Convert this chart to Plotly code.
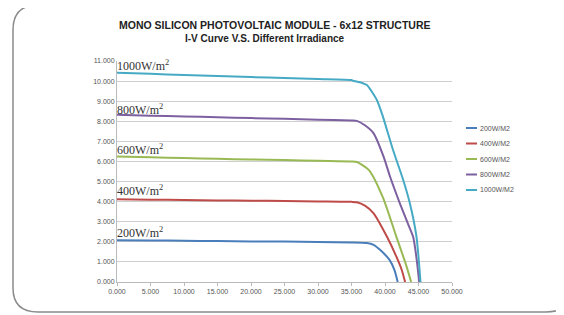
import plotly.graph_objects as go

# ---- data ----
series_names = ["200W/M2", "400W/M2", "600W/M2", "800W/M2", "1000W/M2"]
label_texts = ["200W/m<sup>2</sup>", "400W/m<sup>2</sup>", "600W/m<sup>2</sup>",
               "800W/m<sup>2</sup>", "1000W/m<sup>2</sup>"]
label_y = [2.45, 4.55, 6.6, 8.6, 10.8]

v_200 = [0, 5, 10, 15, 20, 25, 30, 35, 37.3, 38.3, 39.3, 40.7, 41.4, 41.9]
i_200 = [2.08, 2.07, 2.05, 2.04, 2.02, 2.01, 1.99, 1.97, 1.94, 1.85, 1.59, 1.09, 0.6, 0.0]

v_400 = [0, 5, 10, 15, 20, 25, 30, 35, 35.8, 37.0, 38.3, 40.3, 41.7, 42.5, 43.0]
i_400 = [4.12, 4.10, 4.08, 4.06, 4.05, 4.03, 4.01, 3.99, 3.97, 3.80, 3.42, 2.25, 1.26, 0.6, 0.0]

v_600 = [0, 5, 10, 15, 20, 25, 30, 35, 35.8, 37.6, 39.7, 41.7, 43.0, 43.6, 43.9]
i_600 = [6.25, 6.21, 6.17, 6.13, 6.10, 6.07, 6.03, 6.00, 5.97, 5.57, 4.20, 2.25, 1.0, 0.35, 0.0]

v_800 = [0, 5, 10, 15, 20, 25, 30, 35, 35.8, 37.0, 38.3, 39.8, 40.8, 42.2, 43.3, 44.2, 44.7, 45.1]
i_800 = [8.32, 8.28, 8.24, 8.20, 8.16, 8.12, 8.08, 8.04, 8.02, 7.80, 7.40, 6.23, 5.20, 3.93, 3.0, 2.25, 1.2, 0.0]

v_1000 = [0, 5, 10, 15, 20, 25, 30, 35, 35.2, 36.5, 37.3, 38.8, 39.7, 41.2, 42.6, 43.7, 44.7, 45.3]
i_1000 = [10.42, 10.36, 10.30, 10.25, 10.20, 10.15, 10.10, 10.05, 10.02, 9.92, 9.80, 9.05, 8.22, 6.57, 5.20, 3.93, 2.25, 0.0]

x_ticks = [0, 5, 10, 15, 20, 25, 30, 35, 40, 45, 50]
y_ticks = [0, 1, 2, 3, 4, 5, 6, 7, 8, 9, 10, 11]

colors = ["#4A7EBB", "#BE4B48", "#98B954", "#7D60A0", "#46AAC5"]
volts = [v_200, v_400, v_600, v_800, v_1000]
currents = [i_200, i_400, i_600, i_800, i_1000]

# ---- layout geometry (screen pixels; page body adds an 8px offset) ----
OFF = 8
W, H = 564 - OFF, 315 - OFF
L_s, R_s, T_s, B_s = 117, 452, 61, 282   # plot box in screen pixels
PW, PH = R_s - L_s, B_s - T_s

def px(x):
    return (x - L_s) / PW

def py(y):
    return (B_s - y) / PH

fig = go.Figure()
for name, v, i, c in zip(series_names, volts, currents, colors):
    fig.add_trace(go.Scatter(x=v, y=i, mode="lines", name=name, showlegend=False,
                             line=dict(color=c, width=2, shape="spline", smoothing=0.6)))

for txt, yv in zip(label_texts, label_y):
    fig.add_annotation(x=0, y=yv, text=txt, xref="x", yref="y", showarrow=False,
                       xanchor="left", yanchor="middle", xshift=-2,
                       font=dict(family="Liberation Serif", size=12, color="#333333"))

# custom compact legend
leg_x0, leg_y0, leg_dy = 466, 128, 15.5
for k, (name, c) in enumerate(zip(series_names, colors)):
    yy = leg_y0 + k * leg_dy
    fig.add_shape(type="line", xref="paper", yref="paper",
                  x0=px(leg_x0), x1=px(leg_x0 + 11), y0=py(yy), y1=py(yy),
                  line=dict(color=c, width=2))
    fig.add_annotation(x=px(leg_x0 + 12), y=py(yy), xref="paper", yref="paper",
                       text=name, showarrow=False, xanchor="left", yanchor="middle",
                       font=dict(family="Liberation Sans", size=7, color="#555555"))

# titles
fig.add_annotation(x=px(275), y=py(25.5), xref="paper", yref="paper", showarrow=False,
                   text="<b>MONO SILICON PHOTOVOLTAIC MODULE - 6x12 STRUCTURE</b>",
                   font=dict(family="Liberation Sans", size=10.5, color="#222222"),
                   xanchor="center", yanchor="middle")
fig.add_annotation(x=px(265), y=py(38.5), xref="paper", yref="paper", showarrow=False,
                   text="<b>I-V Curve V.S. Different Irradiance</b>",
                   font=dict(family="Liberation Sans", size=10, color="#222222"),
                   xanchor="center", yanchor="middle")

# rounded outer frame
path = (f"M {px(38)},{py(5)} L {px(545)},{py(5)} Q {px(572)},{py(5)} {px(572)},{py(32)} "
        f"L {px(572)},{py(288)} Q {px(572)},{py(312)} {px(546)},{py(312)} "
        f"L {px(38)},{py(312)} Q {px(13)},{py(312)} {px(13)},{py(288)} "
        f"L {px(13)},{py(30)} Q {px(13)},{py(5)} {px(38)},{py(5)} Z")
fig.add_shape(type="path", path=path, xref="paper", yref="paper",
              line=dict(color="#8a8a8a", width=1.5), layer="above")

fig.update_layout(
    width=W, height=H,
    margin=dict(l=L_s - OFF, r=W - (R_s - OFF), t=T_s - OFF, b=H - (B_s - OFF)),
    paper_bgcolor="white", plot_bgcolor="white",
    showlegend=False,
    xaxis=dict(range=[0, 50], tickvals=x_ticks, tickformat=".3f",
               showgrid=False, zeroline=False, showline=True, linecolor="#bbbbbb",
               ticks="outside", ticklen=3, tickcolor="#bbbbbb",
               tickfont=dict(family="Liberation Sans", size=7, color="#555555")),
    yaxis=dict(range=[0, 11], tickvals=y_ticks, tickformat=".3f",
               showgrid=True, gridcolor="#cfcfcf", gridwidth=1, zeroline=False,
               showline=True, linecolor="#bbbbbb",
               tickfont=dict(family="Liberation Sans", size=7, color="#555555")),
)

fig.write_html("out.html")
